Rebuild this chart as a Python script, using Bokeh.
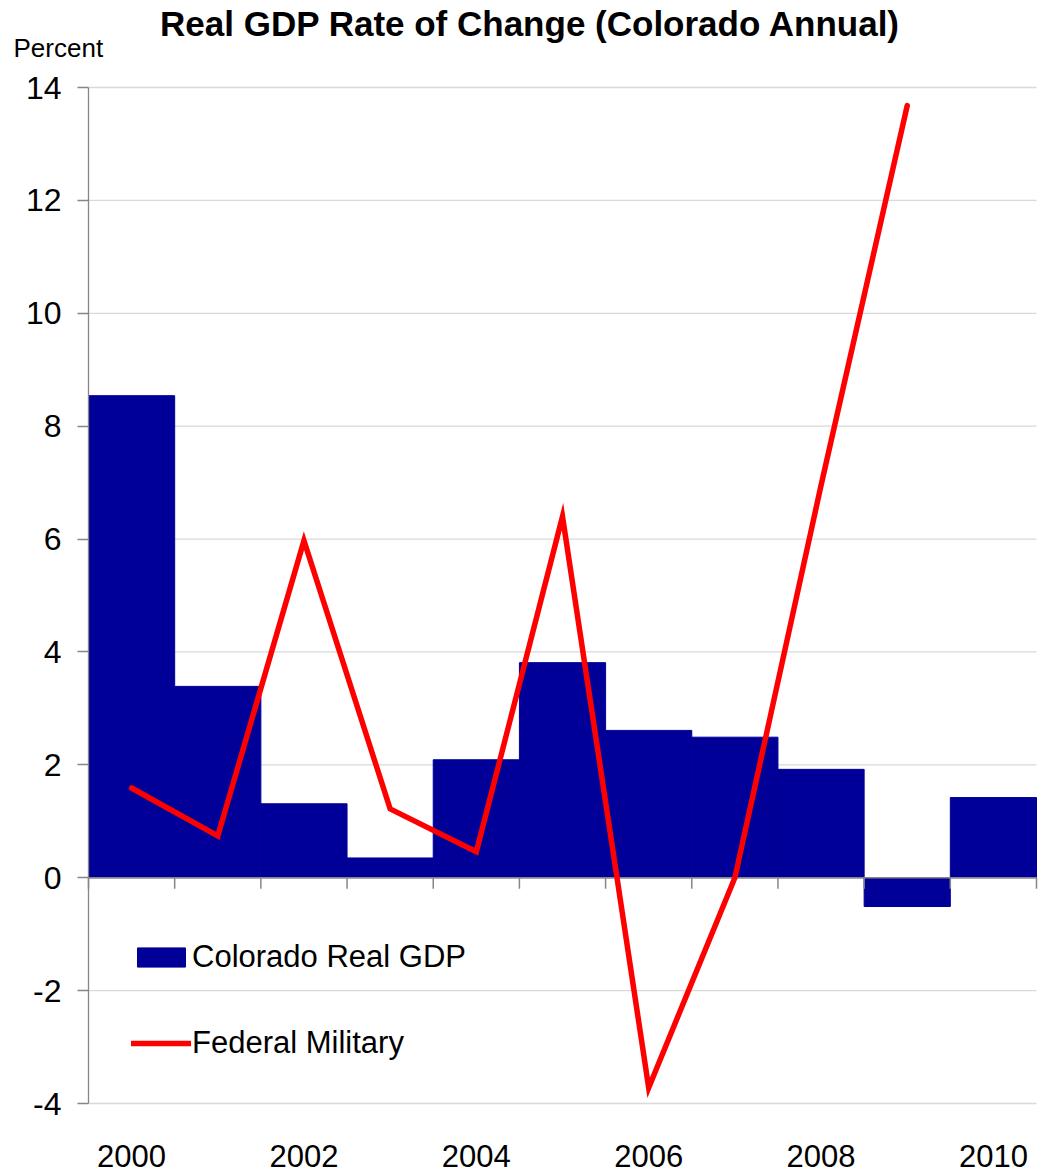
from bokeh.plotting import figure
from bokeh.models import Range1d, FixedTicker, Label, Legend, LegendItem
from bokeh.embed import file_html
from bokeh.resources import INLINE

# ---- data ----
years = [2000, 2001, 2002, 2003, 2004, 2005, 2006, 2007, 2008, 2009, 2010]
colorado_gdp = [8.54, 3.39, 1.31, 0.35, 2.09, 3.81, 2.61, 2.49, 1.92, -0.51, 1.42]
mil_years = [2000, 2001, 2002, 2003, 2004, 2005, 2006, 2007, 2008, 2009]
federal_military = [1.59, 0.74, 5.97, 1.22, 0.46, 6.40, -3.72, 0.0, 6.95, 13.68]
x_tick_years = [2000, 2002, 2004, 2006, 2008, 2010]
x_tick_labels = ["2000", "2002", "2004", "2006", "2008", "2010"]
y_ticks = [-4, -2, 0, 2, 4, 6, 8, 10, 12, 14]
y_tick_labels = ["-4", "-2", "0", "2", "4", "6", "8", "10", "12", "14"]

# ---- layout (pixels) ----
W, H = 1047, 1176
PLOT_L, PLOT_R, PLOT_T, PLOT_B = 88, 1036, 87, 1103
FONT = "Liberation Sans"
GRAY = "#868686"

x0, x1 = years[0] - 0.5, years[-1] + 0.5
y0, y1 = y_ticks[0], y_ticks[-1]
xs = (PLOT_R - PLOT_L) / (x1 - x0)
ys = (PLOT_B - PLOT_T) / (y1 - y0)
x_range = Range1d(x0 - PLOT_L / xs, x1 + (W - PLOT_R) / xs)
y_range = Range1d(y0 - (H - PLOT_B) / ys, y1 + PLOT_T / ys)

p = figure(width=W, height=H, output_backend="svg", toolbar_location=None,
           x_range=x_range, y_range=y_range, min_border=0)
p.outline_line_color = None
p.xgrid.visible = False
p.ygrid.visible = False

# y axis at the left edge of the plotting area
p.yaxis.fixed_location = x0
p.yaxis.ticker = FixedTicker(ticks=y_ticks)
p.yaxis.major_label_overrides = {t: s for t, s in zip(y_ticks, y_tick_labels)}
p.yaxis.axis_line_color = None
p.yaxis.major_tick_line_color = GRAY
p.yaxis.major_tick_line_width = 1.3
p.yaxis.major_tick_out = 11
p.yaxis.major_tick_in = 0
p.yaxis.minor_tick_line_color = None
p.yaxis.major_label_text_font = FONT
p.yaxis.major_label_text_font_size = "32px"
p.yaxis.major_label_text_color = "black"
p.yaxis.major_label_standoff = 16

# x axis: labels only, below the plotting area
p.xaxis.fixed_location = y0
p.xaxis.ticker = FixedTicker(ticks=x_tick_years)
p.xaxis.major_label_overrides = {y: s for y, s in zip(x_tick_years, x_tick_labels)}
p.xaxis.axis_line_color = None
p.xaxis.major_tick_line_color = None
p.xaxis.minor_tick_line_color = None
p.xaxis.major_label_text_font = FONT
p.xaxis.major_label_text_font_size = "31px"
p.xaxis.major_label_text_color = "black"
p.xaxis.major_label_standoff = 35

# horizontal gridlines across the plotting area
n = len(y_ticks)
p.segment(x0=[x0] * n, x1=[x1] * n, y0=y_ticks, y1=y_ticks,
          line_color="#D9D9D9", line_width=1.3)

bars = p.vbar(x=years, top=colorado_gdp, bottom=0, width=1,
              fill_color="#000099", line_color="#000099", line_width=1)

# y axis line, zero line and category-boundary ticks
p.segment(x0=[x0], x1=[x0], y0=[y0], y1=[y1], line_color=GRAY, line_width=1.3)
bounds = [y - 0.5 for y in years] + [years[-1] + 0.5]
p.segment(x0=[x0], x1=[x1], y0=[0], y1=[0], line_color=GRAY, line_width=1.5)
p.segment(x0=bounds, x1=bounds, y0=[0] * len(bounds), y1=[-11 / ys] * len(bounds),
          line_color=GRAY, line_width=1.5)

line = p.line(mil_years, federal_military, line_color="#FF0000", line_width=5.5,
              line_join="miter", line_cap="round")

legend = Legend(items=[LegendItem(label="Colorado Real GDP", renderers=[bars]),
                       LegendItem(label="Federal Military", renderers=[line])],
                location=(PLOT_L + 43, H - PLOT_B + 42), orientation="vertical")
legend.background_fill_alpha = 0
legend.border_line_color = None
legend.margin = 0
legend.padding = 0
legend.spacing = 50
legend.glyph_width = 60
legend.glyph_height = 24
legend.label_standoff = 1
legend.label_text_font = FONT
legend.label_text_font_size = "31px"
legend.label_text_color = "black"
p.add_layout(legend, "center")

p.add_layout(Label(x=530, y=H - 23, x_units="screen", y_units="screen",
                   text="Real GDP Rate of Change (Colorado Annual)", text_align="center",
                   text_baseline="alphabetic", text_font=FONT, text_font_style="bold",
                   text_font_size="35px", text_color="black"))
p.add_layout(Label(x=13, y=H - 47, x_units="screen", y_units="screen", text="Percent",
                   text_align="left", text_baseline="alphabetic", text_font=FONT,
                   text_font_size="26px", text_color="black"))

open("out.html", "w").write(file_html(p, INLINE))
